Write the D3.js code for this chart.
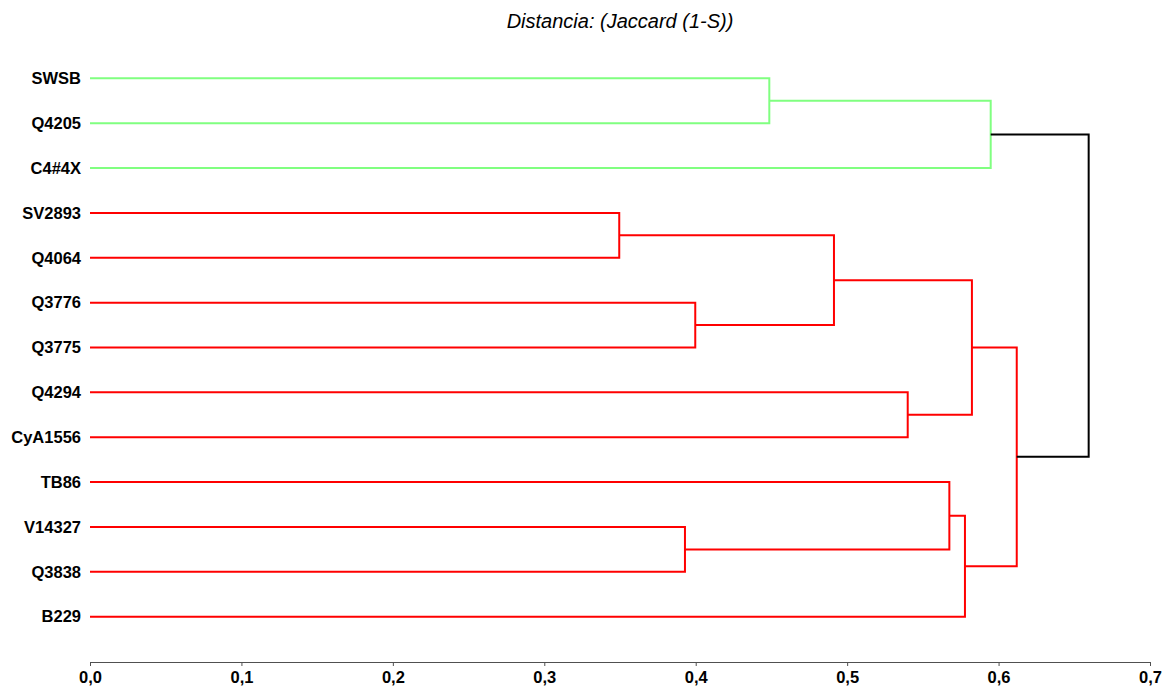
<!DOCTYPE html>
<html>
<head>
<meta charset="utf-8">
<script src="https://cdn.jsdelivr.net/npm/d3@7/dist/d3.min.js"></script>
<style>
  body { margin: 0; background: #fff; }
  .leaf-label { font: bold 16.5px "Liberation Sans", Arial, sans-serif; fill: #000; }
  .title { font: italic 20px "Liberation Sans", Arial, sans-serif; fill: #000; }
  .axis text { font: bold 16.5px "Liberation Sans", Arial, sans-serif; fill: #000; }
  .axis path, .axis line { stroke: #505050; }
  .link { fill: none; stroke-width: 2; }
</style>
</head>
<body>
<svg id="chart" width="1170" height="688"></svg>
<script>
// leaves, top to bottom
const leaves = ["SWSB", "Q4205", "C4#4X", "SV2893", "Q4064", "Q3776", "Q3775",
                "Q4294", "CyA1556", "TB86", "V14327", "Q3838", "B229"];
// cluster group of each leaf (0 = green, 1 = red)
const leafGroup = [0, 0, 0, 1, 1, 1, 1, 1, 1, 1, 1, 1, 1];
const groupColors = ["#80ff80", "#ff0000"];

// merges: [left node, right node, distance]; node ids 0..12 are leaves, 13+ are merges
const merges = [
  [0, 1, 0.4486],    // 13
  [13, 2, 0.5948],   // 14
  [3, 4, 0.3495],    // 15
  [5, 6, 0.3997],    // 16
  [15, 16, 0.4913],  // 17
  [7, 8, 0.5400],    // 18
  [17, 18, 0.5824],  // 19
  [10, 11, 0.3929],  // 20
  [9, 20, 0.5675],   // 21
  [21, 12, 0.5778],  // 22
  [19, 22, 0.6120],  // 23
  [14, 23, 0.6595]   // 24
];
const xTicks = [0, 0.1, 0.2, 0.3, 0.4, 0.5, 0.6, 0.7];
const title = "Distancia: (Jaccard (1-S))";

const svg = d3.select("#chart");

const x = d3.scaleLinear().domain([0, 0.7]).range([90, 1150]);
const y = d3.scalePoint().domain(d3.range(leaves.length)).range([78.3, 616.7]);

// node positions + groups
const nodes = leaves.map((name, i) => ({ h: 0, y: y(i), group: leafGroup[i] }));
merges.forEach(([a, b, h]) => {
  const na = nodes[a], nb = nodes[b];
  nodes.push({
    h: h,
    y: (na.y + nb.y) / 2,
    group: na.group === nb.group ? na.group : -1,
    a: na, b: nb
  });
});

// links (U shapes)
svg.append("g")
  .selectAll("path")
  .data(nodes.filter(d => d.a))
  .enter()
  .append("path")
  .attr("class", "link")
  .attr("stroke", d => d.group < 0 ? "#000" : groupColors[d.group])
  .attr("d", d => `M${x(d.a.h)},${d.a.y}H${x(d.h)}V${d.b.y}H${x(d.b.h)}`);

// leaf labels
svg.append("g")
  .selectAll("text")
  .data(leaves)
  .enter()
  .append("text")
  .attr("class", "leaf-label")
  .attr("x", 81)
  .attr("y", (d, i) => y(i))
  .attr("dy", "0.35em")
  .attr("text-anchor", "end")
  .text(d => d);

// axis
const fmt = d => d3.format(".1f")(d).replace(".", ",");
svg.append("g")
  .attr("class", "axis")
  .attr("transform", "translate(0,662)")
  .call(d3.axisBottom(x).tickValues(xTicks).tickFormat(fmt).tickSize(4).tickSizeOuter(0).tickPadding(5));

// title
svg.append("text")
  .attr("class", "title")
  .attr("x", 620)
  .attr("y", 28)
  .attr("text-anchor", "middle")
  .text(title);
</script>
</body>
</html>
